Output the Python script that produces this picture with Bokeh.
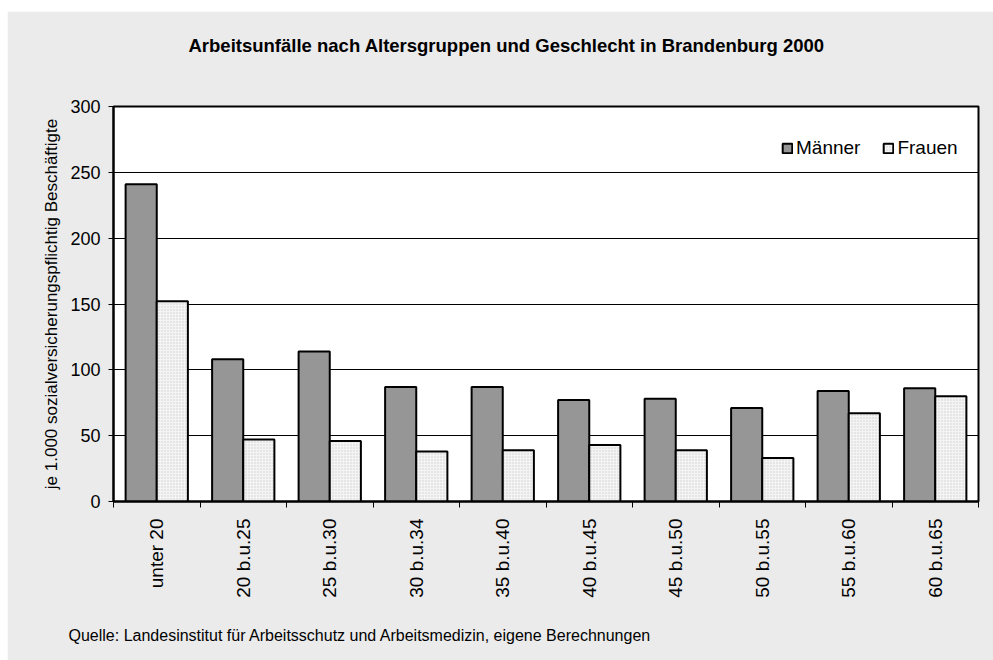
import numpy as np
from bokeh.plotting import figure
from bokeh.models import Range1d, FixedTicker, Title, ColumnDataSource
from bokeh.embed import file_html
from bokeh.resources import INLINE

categories = ["unter 20", "20 b.u.25", "25 b.u.30", "30 b.u.34", "35 b.u.40",
              "40 b.u.45", "45 b.u.50", "50 b.u.55", "55 b.u.60", "60 b.u.65"]
maenner = [241, 108, 114, 87, 87, 77, 78, 71, 84, 86]
frauen = [152, 47, 46, 38, 39, 43, 39, 33, 67, 80]
y_ticks = [0, 50, 100, 150, 200, 250, 300]

title_text = "Arbeitsunfälle nach Altersgruppen und Geschlecht in Brandenburg 2000"
y_label = "je 1.000 sozialversicherungspflichtig Beschäftigte"
source_text = "Quelle: Landesinstitut für Arbeitsschutz und Arbeitsmedizin, eigene Berechnungen"

FONT = "Liberation Sans"
BG = "#ebebeb"

n = len(categories)
idx = np.arange(n)
src = ColumnDataSource(dict(
    xm=idx + 0.5 - 0.18, xf=idx + 0.5 + 0.18, m=maenner, f=frauen, cat=categories))

p = figure(width=986, height=649, output_backend="svg", toolbar_location=None,
           x_range=Range1d(0, n), y_range=Range1d(0, 300),
           min_border_left=106, min_border_right=15, min_border_top=95, min_border_bottom=159)
p.margin = (11, 0, 0, 7)
p.background_fill_color = "white"
p.border_fill_color = BG
p.outline_line_color = "black"
p.outline_line_width = 2

p.vbar(x="xm", top="m", width=0.36, source=src, fill_color="#969696",
       line_color="black", line_width=2, legend_label="Männer")
p.vbar(x="xf", top="f", width=0.36, source=src, fill_color="#f4f4f4",
       hatch_pattern=".", hatch_color="#d0d0d0", hatch_scale=3, hatch_weight=1,
       line_color="black", line_width=2, legend_label="Frauen")

# x axis
xa = p.xaxis[0]
xa.ticker = FixedTicker(ticks=list(idx + 0.5), minor_ticks=list(range(n + 1)))
xa.major_label_overrides = {float(i + 0.5): c for i, c in enumerate(categories)}
xa.major_label_orientation = np.pi / 2
xa.major_tick_out = 0
xa.major_tick_in = 0
xa.minor_tick_out = 6
xa.minor_tick_in = 0
xa.minor_tick_line_color = "black"
xa.axis_line_color = "black"
xa.axis_line_width = 2
xa.major_label_standoff = 11
xa.major_label_text_font = FONT
xa.major_label_text_font_size = "19px"
xa.major_label_text_color = "black"

# y axis
ya = p.yaxis[0]
ya.ticker = FixedTicker(ticks=y_ticks)
ya.minor_tick_line_color = None
ya.major_tick_out = 5
ya.major_tick_in = 0
ya.major_tick_line_color = "black"
ya.axis_line_color = "black"
ya.axis_line_width = 2
ya.major_label_standoff = 8
ya.major_label_text_font = FONT
ya.major_label_text_font_size = "18px"
ya.major_label_text_color = "black"
ya.axis_label = y_label
ya.axis_label_text_font = FONT
ya.axis_label_text_font_size = "17px"
ya.axis_label_text_font_style = "normal"
ya.axis_label_text_color = "black"
ya.axis_label_standoff = 6

p.xgrid.grid_line_color = None
p.ygrid.grid_line_color = "black"
p.ygrid.grid_line_width = 1

# legend
lg = p.legend[0]
lg.orientation = "horizontal"
lg.location = (668, 342)
lg.background_fill_alpha = 0
lg.border_line_color = None
lg.padding = 0
lg.margin = 0
lg.spacing = 22
lg.glyph_width = 12
lg.glyph_height = 12
lg.label_standoff = 3
lg.label_height = 17
lg.label_text_font = FONT
lg.label_text_font_size = "19px"
lg.label_text_color = "black"

# title and source (blank lines shift the text within its panel)
p.add_layout(Title(text=title_text + "\n \n ", align="left", offset=75, standoff=18,
                   text_font=FONT, text_font_size="18.5px", text_font_style="bold",
                   text_color="black"), "above")
p.add_layout(Title(text=" \n" + source_text, align="left", offset=-45, standoff=15,
                   text_font=FONT, text_font_size="16px", text_font_style="normal",
                   text_color="black"), "below")

open("out.html", "w").write(file_html(p, INLINE))
